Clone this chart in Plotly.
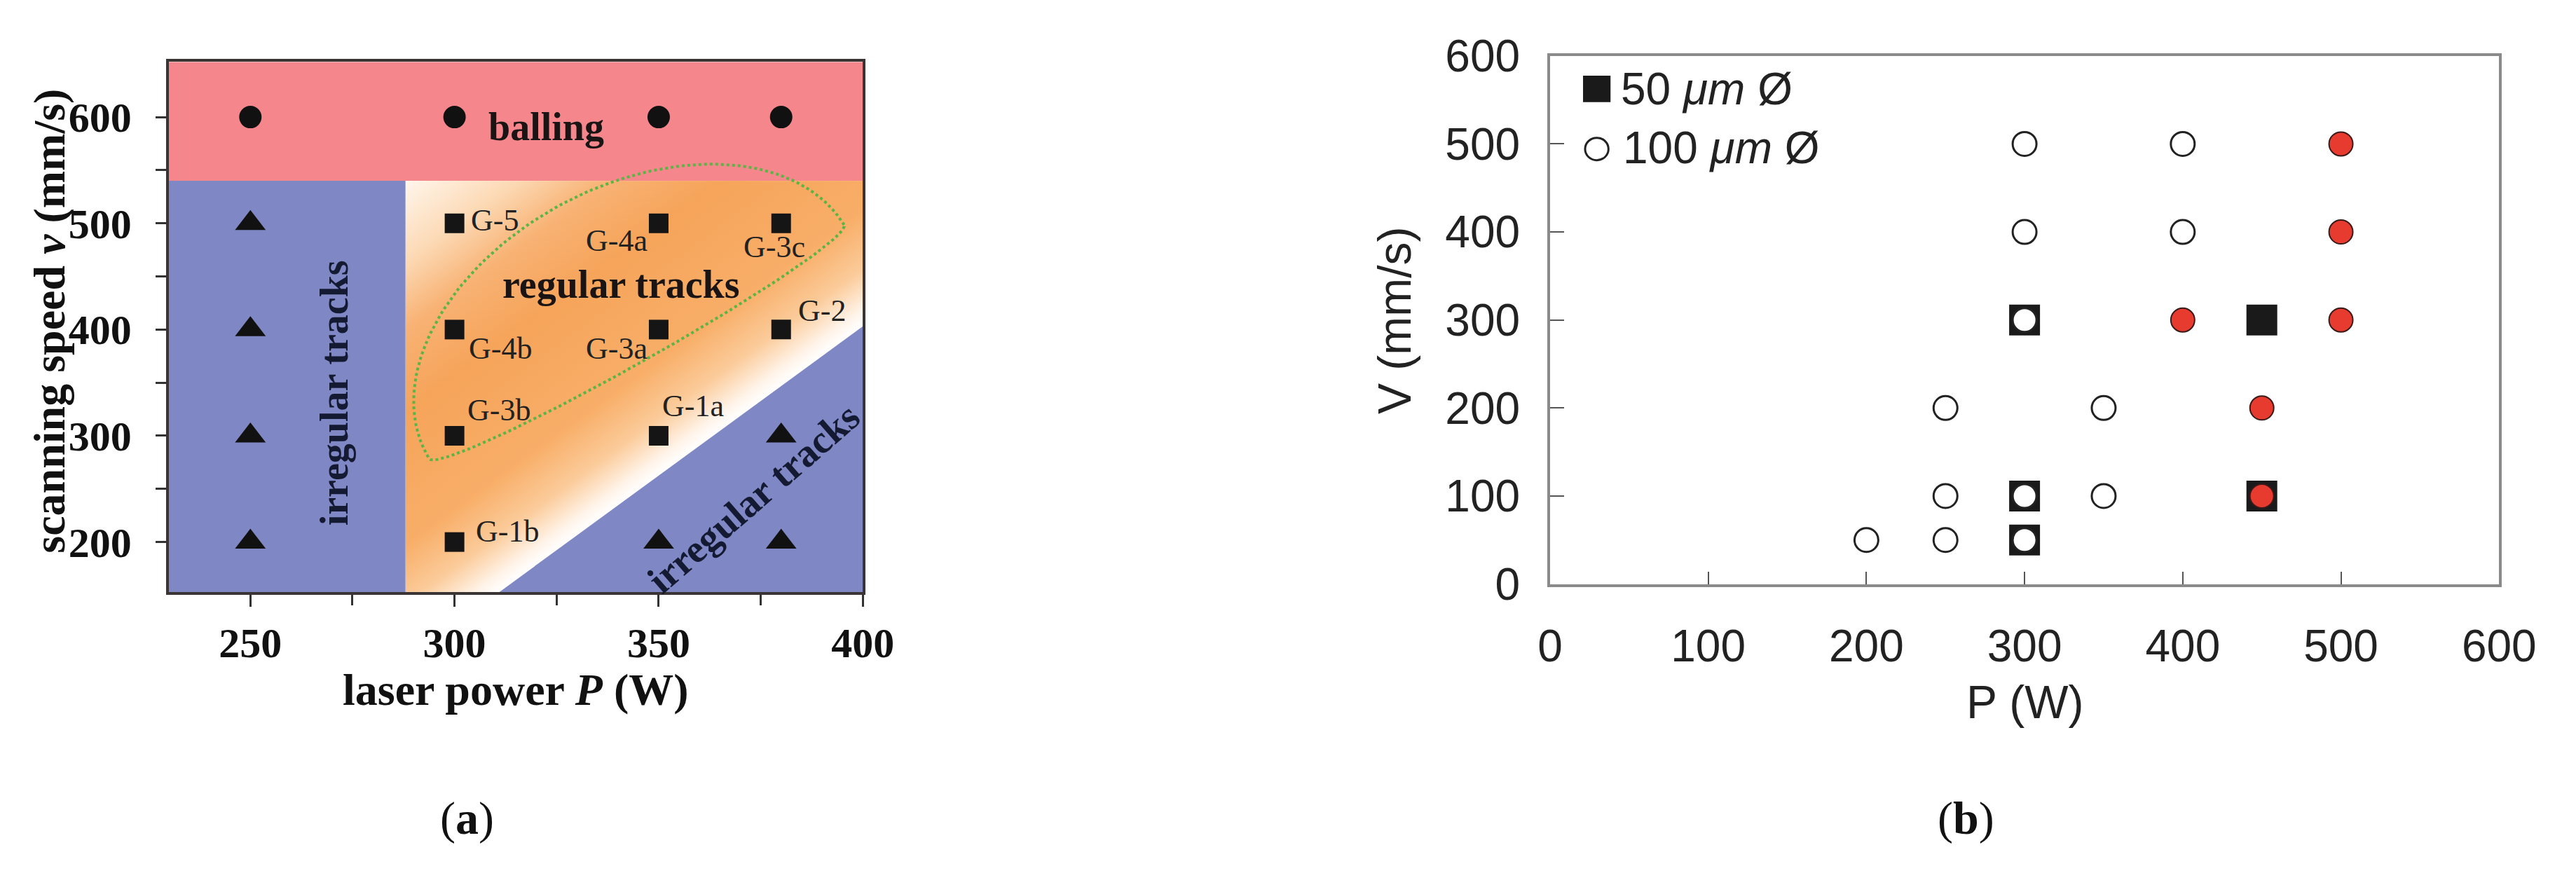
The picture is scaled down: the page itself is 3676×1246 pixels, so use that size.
import math
import base64
import plotly.graph_objects as go

# ---------------- Panel (a) data ----------------
a_ball_P = [250, 300, 350, 380]
a_ball_v = [600, 600, 600, 600]
a_irr_P = [250, 250, 250, 250, 350, 380, 380]
a_irr_v = [500, 400, 300, 200, 200, 300, 200]
a_reg_P = [300, 350, 380, 300, 350, 380, 300, 350, 300]
a_reg_v = [500, 500, 500, 400, 400, 400, 300, 300, 200]
a_reg_labels = ["G-5", "G-4a", "G-3c", "G-4b", "G-3a", "G-2", "G-3b", "G-1a", "G-1b"]
a_xticks = [250, 300, 350, 400]
a_xminor = [275, 325, 375]
a_yticks = [200, 300, 400, 500, 600]
a_yminor = [250, 350, 450, 550]
# process-window boundaries
a_balling_min_v = 540
a_left_irr_max_P = 288
a_diag_P = [311, 400]
a_diag_v = [153, 403]

# ---------------- Panel (b) data ----------------
b_sq_P = [300, 450, 300, 300, 450]
b_sq_V = [300, 300, 100, 50, 100]
b_open_P = [300, 400, 300, 400, 250, 350, 250, 350, 200, 250, 300, 300, 300]
b_open_V = [500, 500, 400, 400, 200, 200, 100, 100, 50, 50, 300, 100, 50]
b_red_P = [500, 500, 400, 500, 450, 450]
b_red_V = [500, 400, 300, 300, 200, 100]
b_ticks = [0, 100, 200, 300, 400, 500, 600]

# ---------------- layout constants ----------------
W, H = 3676, 1246
A_PX = (219, 1229)
A_PY = (47, 850)
A_XR = [230, 400]
A_YR = [153, 652]
B_PX = (2229, 3610)
B_PY = (38, 838)
B_XR = [0, 600]
B_YR = [0, 600]

PINK = "#F5878C"
BLUE = "#7F88C5"
SERIF = "Liberation Serif"
SANS = "Liberation Sans"


def dom_x(px):
    return [px[0] / W, px[1] / W]


def dom_y(py):
    return [1 - py[1] / H, 1 - py[0] / H]


def pp(xp, yp):
    return xp / W, 1 - yp / H


kx = (A_PX[1] - A_PX[0]) / (A_XR[1] - A_XR[0])
ky = (A_PY[1] - A_PY[0]) / (A_YR[1] - A_YR[0])

# ---------------- gradient image for the "regular tracks" region ----------------
gx0, gx1 = a_left_irr_max_P, A_XR[1]
gy0, gy1 = A_YR[0], a_balling_min_v


def vb(P, v):
    return ((P - gx0) / (gx1 - gx0) * 1000, (gy1 - v) / (gy1 - gy0) * 1000)


p0 = vb(a_diag_P[0], a_diag_v[0])
p1 = vb(a_diag_P[1], a_diag_v[1])
L = math.hypot(p1[0] - p0[0], p1[1] - p0[1])
ux, uy = (p1[0] - p0[0]) / L, (p1[1] - p0[1]) / L
proj = (0 - p0[0]) * ux + (0 - p0[1]) * uy
foot = (p0[0] + proj * ux, p0[1] + proj * uy)
stops = [(0.0, "#FFFFFF"), (0.035, "#FFF4EA"), (0.12, "#FBCB9A"), (0.24, "#F8AE68"),
         (0.52, "#F6A45A"), (0.69, "#F8B274"), (0.83, "#FCD9B4"), (1.0, "#FFF6EC")]
stop_xml = "".join(f'<stop offset="{o}" stop-color="{c}"/>' for o, c in stops)
svg = (
    '<svg xmlns="http://www.w3.org/2000/svg" width="1000" height="1000" '
    'viewBox="0 0 1000 1000" preserveAspectRatio="none">'
    f'<defs><linearGradient id="g" gradientUnits="userSpaceOnUse" '
    f'x1="{foot[0]:.1f}" y1="{foot[1]:.1f}" x2="0" y2="0">{stop_xml}</linearGradient></defs>'
    '<rect x="0" y="0" width="1000" height="1000" fill="url(#g)"/></svg>'
)
svg_uri = "data:image/svg+xml;base64," + base64.b64encode(svg.encode()).decode()

# ---------------- dotted process-window outline (style geometry) ----------------
ell_c = (344.6, 388.5)
ell_a, ell_bu, ell_bl, ell_th = 350, 235, 30, math.radians(30.4)
ell_P, ell_v = [], []
for i in range(0, 361, 2):
    t = math.radians(i)
    u = ell_a * math.cos(t)
    s = math.sin(t)
    w = -ell_bu * s if s >= 0 else -ell_bl * s
    dx = u * math.cos(ell_th) + w * math.sin(ell_th)
    dy = -u * math.sin(ell_th) + w * math.cos(ell_th)
    ell_P.append(ell_c[0] + dx / kx)
    ell_v.append(ell_c[1] - dy / ky)

fig = go.Figure()

# lower-right irregular region
fig.add_trace(go.Scatter(
    x=[a_diag_P[0], A_XR[1], a_diag_P[1], a_diag_P[0]],
    y=[a_diag_v[0], A_YR[0], a_diag_v[1], a_diag_v[0]],
    mode="lines", fill="toself", fillcolor=BLUE, line=dict(width=0, color=BLUE),
    hoverinfo="skip", showlegend=False, xaxis="x", yaxis="y"))

fig.add_trace(go.Scatter(
    x=ell_P, y=ell_v, mode="lines", line=dict(color="#5CB447", width=4, dash="dot"),
    hoverinfo="skip", showlegend=False, xaxis="x", yaxis="y"))

fig.add_trace(go.Scatter(
    x=a_ball_P, y=a_ball_v, mode="markers",
    marker=dict(symbol="circle", size=32, color="#111111"),
    showlegend=False, xaxis="x", yaxis="y"))
fig.add_trace(go.Scatter(
    x=a_irr_P, y=a_irr_v, mode="markers",
    marker=dict(symbol="triangle-up", size=38, color="#111111"),
    showlegend=False, xaxis="x", yaxis="y"))
fig.add_trace(go.Scatter(
    x=a_reg_P, y=a_reg_v, mode="markers",
    marker=dict(symbol="square", size=28, color="#151515"),
    showlegend=False, xaxis="x", yaxis="y"))

# panel (b)
fig.add_trace(go.Scatter(
    x=b_sq_P, y=b_sq_V, mode="markers",
    marker=dict(symbol="square", size=44, color="#1a1a1a"),
    showlegend=False, xaxis="x2", yaxis="y2"))
fig.add_trace(go.Scatter(
    x=b_open_P, y=b_open_V, mode="markers",
    marker=dict(symbol="circle", size=34, color="white", line=dict(color="#222222", width=3)),
    showlegend=False, xaxis="x2", yaxis="y2"))
fig.add_trace(go.Scatter(
    x=b_red_P, y=b_red_V, mode="markers",
    marker=dict(symbol="circle", size=34, color="#E63B2E", line=dict(color="#3a1a1a", width=2)),
    showlegend=False, xaxis="x2", yaxis="y2"))

shapes = [
    dict(type="rect", xref="x", yref="y", x0=A_XR[0], x1=A_XR[1], y0=a_balling_min_v, y1=A_YR[1],
         fillcolor=PINK, line=dict(width=0), layer="below"),
    dict(type="rect", xref="x", yref="y", x0=A_XR[0], x1=a_left_irr_max_P, y0=A_YR[0], y1=a_balling_min_v,
         fillcolor=BLUE, line=dict(width=0), layer="below"),
]
# legend keys for (b)
sx0, sy0 = pp(2277, 108)
sx1, sy1 = pp(2317, 68)
shapes.append(dict(type="rect", xref="paper", yref="paper", x0=sx0, x1=sx1, y0=sy0, y1=sy1,
                   fillcolor="#1a1a1a", line=dict(width=0)))
cx0, cy0 = pp(2280, 196)
cx1, cy1 = pp(2314, 162)
shapes.append(dict(type="circle", xref="paper", yref="paper", x0=cx0, x1=cx1, y0=cy0, y1=cy1,
                   fillcolor="white", line=dict(color="#222222", width=3)))

ann = []


def add_ann(**kw):
    kw.setdefault("showarrow", False)
    kw.setdefault("xanchor", "center")
    kw.setdefault("yanchor", "middle")
    ann.append(kw)


# G labels: (xshift, yshift, xanchor)
g_offsets = [(21, 4, "left"), (-60, -25, "center"), (-10, -34, "center"), (65, -27, "center"),
             (-60, -27, "center"), (58, 27, "center"), (63, 36, "center"), (49, 42, "center"),
             (75, 15, "center")]
for P, v, lab, (xs, ys, xa) in zip(a_reg_P, a_reg_v, a_reg_labels, g_offsets):
    add_ann(x=P, y=v, xref="x", yref="y", text=lab, xshift=xs, yshift=ys, xanchor=xa,
            font=dict(family=SERIF, size=44, color="#222222"))

region_font = dict(family=SERIF, size=56, color="#1a1414")
add_ann(x=322.4, y=591, xref="x", yref="y", text="<b>balling</b>", font=region_font)
add_ann(x=340.8, y=442.6, xref="x", yref="y", text="<b>regular tracks</b>", font=region_font)
add_ann(x=270.7, y=340.6, xref="x", yref="y", text="<b>irregular tracks</b>", textangle=-90,
        font=dict(family=SERIF, size=56, color="#151a33"))
add_ann(x=373.2, y=241.2, xref="x", yref="y", text="<b>irregular tracks</b>", textangle=-41,
        font=dict(family=SERIF, size=56, color="#151a33"))

axfont_a = dict(family=SERIF, size=64, color="#111111")
x, y = pp(45, 440)
add_ann(x=x, y=y, xref="paper", yref="paper", text="<b>scanning speed <i>v</i> (mm/s)</b>",
        textangle=-90, font=axfont_a)
x, y = pp(724, 998)
add_ann(x=x, y=y, xref="paper", yref="paper", text="<b>laser power <i>P</i> (W)</b>", font=axfont_a)

axfont_b = dict(family=SANS, size=66, color="#222222")
x, y = pp(2002, 438)
add_ann(x=x, y=y, xref="paper", yref="paper", text="V (mm/s)", textangle=-90, font=axfont_b)
x, y = pp(2920, 1017)
add_ann(x=x, y=y, xref="paper", yref="paper", text="P (W)", font=axfont_b)
x, y = pp(2330, 88)
add_ann(x=x, y=y, xref="paper", yref="paper", text="50 <i>μm</i> Ø", xanchor="left",
        font=dict(family=SANS, size=64, color="#222222"))
x, y = pp(2333, 177)
add_ann(x=x, y=y, xref="paper", yref="paper", text="100 <i>μm</i> Ø", xanchor="left",
        font=dict(family=SANS, size=64, color="#222222"))

x, y = pp(653, 1193)
add_ann(x=x, y=y, xref="paper", yref="paper", text="(<b>a</b>)",
        font=dict(family=SERIF, size=66, color="#111111"))
x, y = pp(2834, 1193)
add_ann(x=x, y=y, xref="paper", yref="paper", text="(<b>b</b>)",
        font=dict(family=SERIF, size=66, color="#111111"))

tick_a = dict(family=SERIF, size=60, color="#111111", weight="bold")
tick_b = dict(family=SANS, size=64, color="#222222")

fig.update_layout(
    width=W, height=H, margin=dict(l=0, r=0, t=0, b=0),
    paper_bgcolor="white", plot_bgcolor="white", showlegend=False,
    shapes=shapes, annotations=ann,
    images=[dict(source=svg_uri, xref="x", yref="y", x=gx0, y=gy1, sizex=gx1 - gx0, sizey=gy1 - gy0,
                 xanchor="left", yanchor="top", sizing="stretch", layer="below")],
    xaxis=dict(domain=dom_x(A_PX), anchor="y", range=A_XR, tickmode="array", tickvals=a_xticks,
               ticks="outside", ticklen=17, tickwidth=3, tickcolor="#333333",
               minor=dict(tickmode="array", tickvals=a_xminor, ticks="outside", ticklen=15,
                          tickwidth=3, tickcolor="#333333"),
               showline=True, linecolor="#3b3434", linewidth=4, mirror=True,
               showgrid=False, zeroline=False, tickfont=tick_a, ticklabelstandoff=0),
    yaxis=dict(domain=dom_y(A_PY), anchor="x", range=A_YR, tickmode="array", tickvals=a_yticks,
               ticks="outside", ticklen=15, tickwidth=3, tickcolor="#333333",
               minor=dict(tickmode="array", tickvals=a_yminor, ticks="outside", ticklen=15,
                          tickwidth=3, tickcolor="#333333"),
               showline=True, linecolor="#3b3434", linewidth=4, mirror=True,
               showgrid=False, zeroline=False, tickfont=tick_a, ticklabelstandoff=22),
    xaxis2=dict(domain=dom_x(B_PX), anchor="y2", range=B_XR, tickmode="array", tickvals=b_ticks,
                ticks="inside", ticklen=18, tickwidth=2, tickcolor="#555555",
                showline=True, linecolor="#8a8a8a", linewidth=4, mirror=True,
                showgrid=False, zeroline=False, tickfont=tick_b, ticklabelstandoff=30),
    yaxis2=dict(domain=dom_y(B_PY), anchor="x2", range=B_YR, tickmode="array", tickvals=b_ticks,
                ticks="inside", ticklen=20, tickwidth=2, tickcolor="#555555",
                showline=True, linecolor="#8a8a8a", linewidth=4, mirror=True,
                showgrid=False, zeroline=False, tickfont=tick_b, ticklabelstandoff=26),
)

fig.write_html("out.html")
